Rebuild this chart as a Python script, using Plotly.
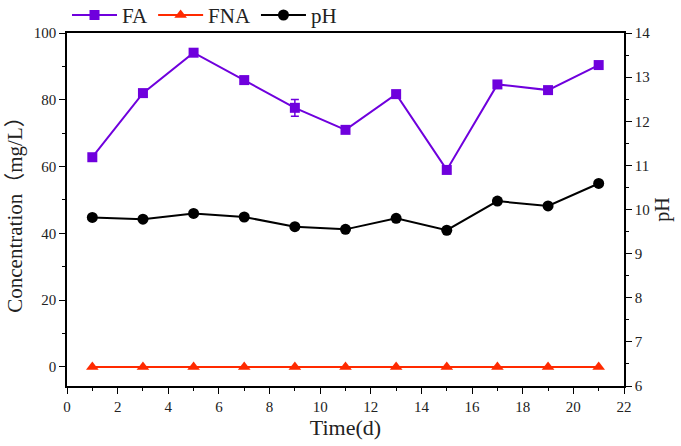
import plotly.graph_objects as go

days = [1, 3, 5, 7, 9, 11, 13, 15, 17, 19, 21]
fa = [62.8, 82.0, 94.1, 85.9, 77.6, 71.0, 81.7, 59.0, 84.6, 82.9, 90.4]
fa_err = [0, 0, 0, 0, 2.5, 0, 0, 0, 0, 0, 0]
fna = [0, 0, 0, 0, 0, 0, 0, 0, 0, 0, 0]
ph = [9.82, 9.78, 9.91, 9.83, 9.61, 9.55, 9.80, 9.53, 10.19, 10.08, 10.59]

FONT = "Times New Roman, Liberation Serif, serif"
TITLEFONT = "Times New Roman, Liberation Serif, Noto Sans CJK SC, serif"
PURPLE = "#6f00dd"
RED = "#ff2a00"

fig = go.Figure()
fig.add_trace(go.Scatter(
    x=days, y=fa, name="FA", mode="lines+markers",
    line=dict(color=PURPLE, width=2),
    marker=dict(symbol="square", size=10, color=PURPLE),
    error_y=dict(type="data", array=fa_err, color=PURPLE, thickness=1.5, width=4),
))
fig.add_trace(go.Scatter(
    x=days, y=fna, name="FNA", mode="lines+markers",
    line=dict(color=RED, width=2),
    marker=dict(symbol="triangle-up", size=11, color=RED),
))
fig.add_trace(go.Scatter(
    x=days, y=ph, name="pH", mode="lines+markers", yaxis="y2",
    line=dict(color="black", width=2),
    marker=dict(symbol="circle", size=11, color="black"),
))


def axis_common():
    return dict(
        showline=True, linecolor="black", linewidth=1.5,
        ticks="outside", ticklen=6, tickwidth=1.2, tickcolor="black",
        showgrid=False, zeroline=False, automargin=False,
        tickfont=dict(family=FONT, size=15, color="#222"),
    )


fig.update_layout(
    width=681, height=446,
    margin=dict(l=67, r=57, t=33, b=60, autoexpand=False),
    paper_bgcolor="white", plot_bgcolor="white",
    font=dict(family=FONT, size=15, color="#222"),
    showlegend=True,
    legend=dict(orientation="h", x=0.0, y=1.05, xanchor="left", yanchor="middle",
                font=dict(family=FONT, size=21, color="#222"),
                itemwidth=45, tracegroupgap=0, bgcolor="rgba(0,0,0,0)"),
    xaxis=dict(
        range=[0, 22], dtick=2, tick0=0, mirror=True,
        minor=dict(ticks="outside", ticklen=3, dtick=1, tickcolor="black"),
        title=dict(text="Time(d)", font=dict(family=FONT, size=22, color="#222"), standoff=2),
        **axis_common(),
    ),
    yaxis=dict(
        range=[-5.7, 100], tickvals=[0, 20, 40, 60, 80, 100],
        minor=dict(ticks="outside", ticklen=3, tickvals=[10, 30, 50, 70, 90], tickcolor="black"),
        title=dict(text="Concentration（mg/L）", font=dict(family=TITLEFONT, size=21, color="#222"), standoff=5),
        **axis_common(),
    ),
    yaxis2=dict(
        range=[6, 14], dtick=1, tick0=6, overlaying="y", side="right",
        minor=dict(ticks="outside", ticklen=3, dtick=0.5, tickcolor="black"),
        title=dict(text="pH", font=dict(family=FONT, size=20, color="#222"), standoff=6),
        **axis_common(),
    ),
)

fig.write_html("out.html")
